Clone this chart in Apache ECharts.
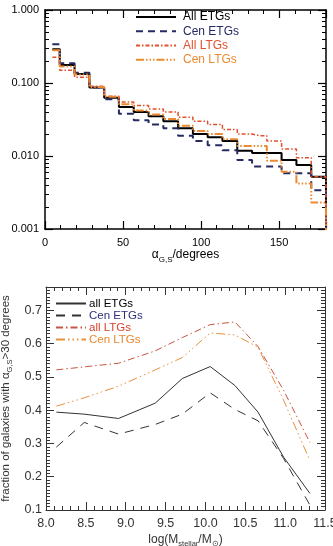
<!DOCTYPE html>
<html><head><meta charset="utf-8">
<script src="https://cdn.jsdelivr.net/npm/echarts@6/dist/echarts.min.js"></script>
<style>html,body{margin:0;padding:0;background:#fff}#c{width:333px;height:546px}</style>
</head><body><div id="c"></div>
<script>
// ---------- top panel: histogram of alpha_G,S ----------
// bin centres in degrees (19 bins over 0-180, last entry is the closing point beyond the axis)
const angleCenters = [4.7, 14.2, 23.7, 33.2, 42.6, 52.1, 61.6, 71.1, 80.5, 90.0, 99.5, 108.9, 118.4, 127.9, 137.4, 146.8, 156.3, 165.8, 175.3, 184.7];
const histAllETGs = [0.29, 0.177, 0.133, 0.087, 0.063, 0.047, 0.040, 0.035, 0.030, 0.024, 0.020, 0.018, 0.016, 0.0118, 0.011, 0.011, 0.0088, 0.0075, 0.0052, 0.0001];
const histCenETGs = [0.34, 0.186, 0.138, 0.087, 0.060, 0.038, 0.031, 0.027, 0.024, 0.019, 0.016, 0.014, 0.012, 0.0088, 0.0072, 0.0072, 0.0058, 0.0058, 0.0034, 0.0001];
const histAllLTGs = [0.225, 0.150, 0.120, 0.090, 0.066, 0.055, 0.049, 0.044, 0.040, 0.034, 0.030, 0.027, 0.023, 0.020, 0.019, 0.016, 0.0125, 0.0095, 0.0052, 0.0001];
const histCenLTGs = [0.28, 0.168, 0.131, 0.088, 0.065, 0.051, 0.042, 0.037, 0.032, 0.026, 0.022, 0.020, 0.017, 0.0137, 0.0137, 0.0086, 0.0061, 0.0042, 0.0023, 0.0001];
const topXTicks = ['0', '50', '100', '150'];
const topYTicks = ['0.001', '0.010', '0.100', '1.000'];

// ---------- bottom panel: fraction with alpha > 30 deg vs stellar mass ----------
const massBins = [8.13, 8.48, 8.91, 9.37, 9.71, 10.06, 10.37, 10.66, 10.98, 11.31];
const fracAllETGs = [0.394, 0.388, 0.375, 0.421, 0.495, 0.531, 0.474, 0.394, 0.259, 0.150];
const fracCenETGs = [0.289, 0.363, 0.328, 0.357, 0.388, 0.452, 0.402, 0.368, 0.255, 0.115];
const fracAllLTGs = [0.521, 0.530, 0.541, 0.578, 0.618, 0.657, 0.665, 0.591, 0.460, 0.303];
const fracCenLTGs = [0.412, 0.437, 0.472, 0.521, 0.558, 0.632, 0.626, 0.589, 0.430, 0.249];
const botXTicks = ['8.0', '8.5', '9.0', '9.5', '10.0', '10.5', '11.0', '11.5'];
const botYTicks = ['0.1', '0.2', '0.3', '0.4', '0.5', '0.6', '0.7'];

const FONT = '"Liberation Sans", Arial, Helvetica, sans-serif';
const pair = (xs, ys) => xs.map((x, i) => [x, ys[i]]);

const chart = echarts.init(document.getElementById('c'), null, {renderer: 'canvas'});

function topAxisX(pos, labels) {
  return {
    type: 'value', gridIndex: 0, position: pos, min: 0, max: 180, interval: 50,
    axisLine: {show: true, onZero: false, lineStyle: {color: '#000', width: 1.5}},
    axisTick: {show: true, inside: true, length: 8, lineStyle: {color: '#000', width: 1.2}},
    minorTick: {show: true, splitNumber: 5, length: 4, lineStyle: {color: '#000', width: 1}},
    splitLine: {show: false},
    axisLabel: {show: labels, margin: 8, color: '#000', fontSize: 11, fontFamily: FONT,
      showMaxLabel: false, formatter: v => topXTicks[Math.round(v / 50)] || ''},
    name: labels ? '{t|α}{s|G,S}{t|/degrees}' : '', nameLocation: 'middle', nameGap: 15,
    nameTextStyle: {rich: {
      t: {fontSize: 12, fontFamily: FONT, color: '#000', lineHeight: 17},
      s: {fontSize: 8, fontFamily: FONT, color: '#000', verticalAlign: 'bottom', lineHeight: 9}
    }}
  };
}
function topAxisY(pos, labels) {
  return {
    type: 'log', gridIndex: 0, position: pos, min: 0.001, max: 1, logBase: 10,
    axisLine: {show: true, onZero: false, lineStyle: {color: '#000', width: 1.5}},
    axisTick: {show: true, inside: true, length: 8, lineStyle: {color: '#000', width: 1.2}},
    minorTick: {show: true, splitNumber: 9, length: 4, lineStyle: {color: '#000', width: 1}},
    splitLine: {show: false},
    axisLabel: {show: labels, margin: 6, color: '#000', fontSize: 11, fontFamily: FONT,
      formatter: v => topYTicks[Math.round(Math.log10(v)) + 3] || ''},
    name: labels ? '{t|Δn/N}{s|total}' : '', nameLocation: 'middle', nameGap: 32, nameRotate: 90,
    nameTextStyle: {rich: {
      t: {fontSize: 12, fontFamily: FONT, color: '#000', lineHeight: 17},
      s: {fontSize: 7, fontFamily: FONT, color: '#000', verticalAlign: 'bottom', lineHeight: 8}
    }}
  };
}
function botAxisX(pos, labels) {
  return {
    type: 'value', gridIndex: 1, position: pos, min: 8.0, max: 11.5, interval: 0.5,
    axisLine: {show: true, onZero: false, lineStyle: {color: '#333', width: 1}},
    axisTick: {show: true, inside: true, length: 8, lineStyle: {color: '#333', width: 1}},
    minorTick: {show: true, splitNumber: 5, length: 4, lineStyle: {color: '#333', width: 1}},
    splitLine: {show: false},
    axisLabel: {show: labels, margin: 7, color: '#333', fontSize: 12.5, fontFamily: FONT,
      showMinLabel: true, showMaxLabel: true,
      formatter: v => botXTicks[Math.round((v - 8) / 0.5)] || ''},
    name: labels ? '{t|log(M}{s|stellar}{t|/M}{s|⊙}{t|)}' : '', nameLocation: 'middle', nameGap: 21,
    nameTextStyle: {rich: {
      t: {fontSize: 12, fontFamily: FONT, color: '#333', lineHeight: 17},
      s: {fontSize: 7.5, fontFamily: FONT, color: '#333', verticalAlign: 'bottom', lineHeight: 8}
    }}
  };
}
function botAxisY(pos, labels) {
  return {
    type: 'value', gridIndex: 1, position: pos, min: 0.1, max: 0.77, interval: 0.1,
    axisLine: {show: true, onZero: false, lineStyle: {color: '#333', width: 1}},
    axisTick: {show: true, inside: true, length: 8, lineStyle: {color: '#333', width: 1}},
    minorTick: {show: true, splitNumber: 10, length: 4, lineStyle: {color: '#333', width: 1}},
    splitLine: {show: false},
    axisLabel: {show: labels, margin: 4, color: '#333', fontSize: 12.5, fontFamily: FONT,
      showMaxLabel: false,
      formatter: v => botYTicks[Math.round((v - 0.1) / 0.1)] || ''},
    name: labels ? '{t|fraction of galaxies with α}{s|G,S}{t|>30 degrees}' : '',
    nameLocation: 'middle', nameGap: 27, nameRotate: 90,
    nameTextStyle: {rich: {
      t: {fontSize: 11.5, fontFamily: FONT, color: '#333', lineHeight: 16},
      s: {fontSize: 7.5, fontFamily: FONT, color: '#333', verticalAlign: 'bottom', lineHeight: 8}
    }}
  };
}

const C_BLACK = '#000000', C_NAVY = '#262a62', C_RED = '#e2502e', C_ORANGE = '#ec8a32';
const B_RED = '#c8553f', B_ORANGE = '#e8913c';

function histSeries(name, vals, color, type, width) {
  return {
    name, type: 'line', xAxisIndex: 0, yAxisIndex: 0, step: 'middle', symbol: 'none',
    clip: true, data: pair(angleCenters, vals),
    lineStyle: {color, type, width}, itemStyle: {color}, z: 3
  };
}
function fracSeries(name, vals, color, type, width) {
  return {
    name, type: 'line', xAxisIndex: 2, yAxisIndex: 2, symbol: 'none', clip: true,
    data: pair(massBins, vals), lineStyle: {color, type, width}, itemStyle: {color}, z: 3
  };
}

const option = {
  animation: false,
  backgroundColor: '#fff',
  grid: [
    {left: 45, right: 7, top: 10, height: 219, outerBoundsMode: 'none', containLabel: false},
    {left: 46, right: 8, top: 287, height: 223, outerBoundsMode: 'none', containLabel: false}
  ],
  xAxis: [topAxisX('bottom', true), topAxisX('top', false), botAxisX('bottom', true), botAxisX('top', false)],
  yAxis: [topAxisY('left', true), topAxisY('right', false), botAxisY('left', true), botAxisY('right', false)],
  legend: [
    {
      orient: 'vertical', left: 135, top: 10, padding: 0, itemWidth: 40, itemHeight: 12, itemGap: 0,
      selectedMode: false, itemStyle: {opacity: 0},
      textStyle: {fontSize: 12, fontFamily: FONT, lineHeight: 14.2, padding: [0, 0, 0, 2]},
      data: [
        {name: 'All ETGs', textStyle: {color: C_BLACK}},
        {name: 'Cen ETGs', textStyle: {color: C_NAVY}},
        {name: 'All LTGs', textStyle: {color: C_RED}},
        {name: 'Cen LTGs', textStyle: {color: C_ORANGE}}
      ]
    },
    {
      orient: 'vertical', left: 55, top: 297.5, padding: 0, itemWidth: 30, itemHeight: 10, itemGap: 0,
      selectedMode: false, itemStyle: {opacity: 0},
      formatter: n => n.trim(),
      textStyle: {fontSize: 11.5, fontFamily: FONT, lineHeight: 11.7, padding: [0, 0, 0, -2]},
      data: [
        {name: 'all ETGs ', textStyle: {color: '#000'}},
        {name: 'Cen ETGs ', textStyle: {color: '#2e2f7a'}},
        {name: 'all LTGs ', textStyle: {color: '#d8432d'}},
        {name: 'Cen LTGs ', textStyle: {color: '#e8872f'}}
      ]
    }
  ],
  series: [
    histSeries('All ETGs', histAllETGs, C_BLACK, 'solid', 2),
    histSeries('Cen ETGs', histCenETGs, C_NAVY, [7, 5], 2),
    histSeries('All LTGs', histAllLTGs, C_RED, [4, 2, 1.5, 2], 1.5),
    histSeries('Cen LTGs', histCenLTGs, C_ORANGE, [8, 2, 1.5, 2, 1.5, 2, 1.5, 2], 2),
    fracSeries('all ETGs ', fracAllETGs, '#333', 'solid', 1),
    fracSeries('Cen ETGs ', fracCenETGs, '#333', [9, 7], 1),
    fracSeries('all LTGs ', fracAllLTGs, B_RED, [7, 3, 1.5, 3], 1),
    fracSeries('Cen LTGs ', fracCenLTGs, B_ORANGE, [9, 3, 1.5, 3, 1.5, 3, 1.5, 3], 1)
  ]
};
chart.setOption(option);
</script></body></html>
